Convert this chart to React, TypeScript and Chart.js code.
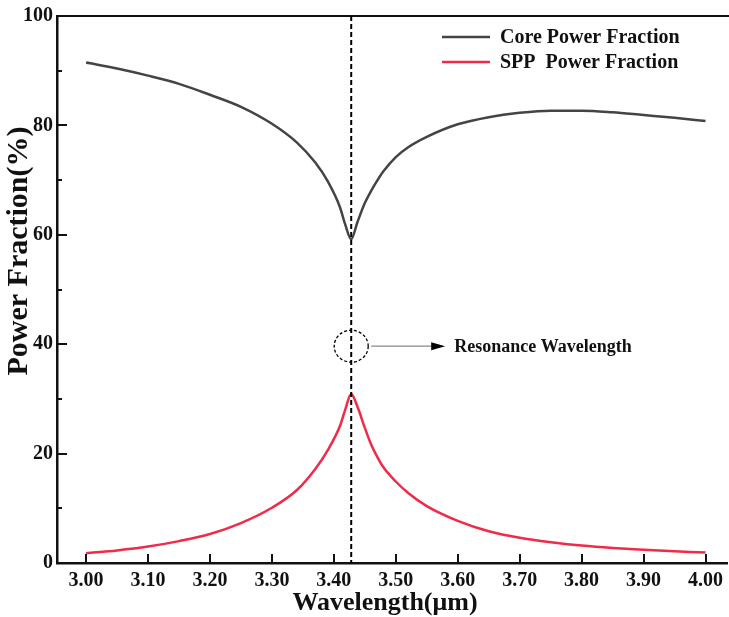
import React, { useEffect, useRef } from "react";
import { Chart, registerables } from "chart.js";

Chart.register(...registerables);

// Wavelength samples (µm)
const wavelengths = [
  3.0, 3.05, 3.1, 3.15, 3.2, 3.25, 3.3, 3.34, 3.37, 3.39, 3.41, 3.418, 3.428,
  3.438, 3.45, 3.46, 3.47, 3.48, 3.5, 3.52, 3.55, 3.6, 3.65, 3.7, 3.75, 3.8,
  3.85, 3.9, 3.95, 4.0,
];

// Fraction of power carried by the core mode (%)
const corePower = [
  91.5, 90.4, 89.1, 87.6, 85.6, 83.4, 80.3, 76.9, 73.2, 69.8, 65.0, 62.0, 59.2,
  62.3, 65.8, 68.0, 69.9, 71.6, 74.2, 76.0, 77.9, 80.2, 81.5, 82.3, 82.7, 82.7,
  82.4, 81.9, 81.4, 80.8,
];

// Fraction of power carried by the surface plasmon polariton mode (%)
const sppPower = [
  1.8, 2.3, 3.0, 4.0, 5.3, 7.3, 10.1, 13.3, 17.2, 20.6, 25.1, 27.9, 30.9,
  28.6, 24.7, 21.7, 19.4, 17.5, 14.9, 12.8, 10.4, 7.7, 5.8, 4.6, 3.8, 3.2,
  2.75, 2.4, 2.15, 1.9,
];

const xTicks = [3.0, 3.1, 3.2, 3.3, 3.4, 3.5, 3.6, 3.7, 3.8, 3.9, 4.0];
const yTicks = [0, 20, 40, 60, 80, 100];
const yMinorTicks = [10, 30, 50, 70, 90];
const resonanceWavelength = 3.428;
const annotationLevel = 40;

const seriesNames = ["Core Power Fraction", "SPP  Power Fraction"];
const seriesColors = ["#444444", "#f02a48"];
const xTitle = "Wavelength(μm)";
const yTitle = "Power Fraction(%)";
const annotationText = "Resonance Wavelength";

const SERIF = '"Liberation Serif", "Times New Roman", serif';

const decorPlugin = {
  id: "decor",
  afterDatasetsDraw(chart: any) {
    const { ctx, chartArea, scales } = chart;
    const xs = scales.x;
    const ys = scales.y;
    const { left, top, bottom } = chartArea;
    ctx.save();

    // top frame line running to the canvas edge
    ctx.strokeStyle = "#111";
    ctx.lineWidth = 2;
    ctx.beginPath();
    ctx.moveTo(left, top);
    ctx.lineTo(chart.width, top);
    ctx.stroke();

    // inward tick marks
    ctx.lineWidth = 2;
    ctx.beginPath();
    xTicks.forEach((v) => {
      const px = Math.round(xs.getPixelForValue(v));
      ctx.moveTo(px, bottom);
      ctx.lineTo(px, bottom - 9);
    });
    yTicks.forEach((v) => {
      const py = Math.round(ys.getPixelForValue(v));
      ctx.moveTo(left, py);
      ctx.lineTo(left + 10, py);
    });
    yMinorTicks.forEach((v) => {
      const py = Math.round(ys.getPixelForValue(v));
      ctx.moveTo(left, py);
      ctx.lineTo(left + 5, py);
    });
    ctx.stroke();

    // resonance marker line
    const rx = xs.getPixelForValue(resonanceWavelength);
    ctx.strokeStyle = "#000";
    ctx.lineWidth = 2;
    ctx.setLineDash([5, 3]);
    ctx.beginPath();
    ctx.moveTo(rx, top);
    ctx.lineTo(rx, bottom);
    ctx.stroke();

    // dashed circle around the marker
    const cy = ys.getPixelForValue(annotationLevel) + 2;
    ctx.lineWidth = 1.3;
    ctx.setLineDash([3, 2]);
    ctx.beginPath();
    ctx.ellipse(rx, cy, 17, 16, 0, 0, Math.PI * 2);
    ctx.stroke();
    ctx.setLineDash([]);

    // arrow to the label
    ctx.strokeStyle = "#888";
    ctx.lineWidth = 1.2;
    ctx.beginPath();
    ctx.moveTo(rx + 20, cy);
    ctx.lineTo(rx + 82, cy);
    ctx.stroke();
    ctx.fillStyle = "#000";
    ctx.beginPath();
    ctx.moveTo(rx + 94, cy);
    ctx.lineTo(rx + 80, cy - 4);
    ctx.lineTo(rx + 80, cy + 4);
    ctx.closePath();
    ctx.fill();

    ctx.font = `bold 18px ${SERIF}`;
    ctx.textAlign = "left";
    ctx.textBaseline = "middle";
    ctx.fillStyle = "#111";
    ctx.fillText(annotationText, rx + 103, cy + 1);

    // legend
    const legendY = [37, 62];
    seriesNames.forEach((name, i) => {
      ctx.strokeStyle = seriesColors[i];
      ctx.lineWidth = 2.5;
      ctx.beginPath();
      ctx.moveTo(442, legendY[i]);
      ctx.lineTo(490, legendY[i]);
      ctx.stroke();
      ctx.fillStyle = "#111";
      ctx.font = `bold 20px ${SERIF}`;
      ctx.fillText(name, 500, legendY[i] + 1);
    });

    // axis titles
    ctx.fillStyle = "#111";
    ctx.textAlign = "center";
    ctx.font = `bold 26px ${SERIF}`;
    ctx.fillText(xTitle, 385, 603);

    ctx.save();
    ctx.translate(19, 251);
    ctx.rotate(-Math.PI / 2);
    ctx.font = `bold 30px ${SERIF}`;
    ctx.fillText(yTitle, 0, 0);
    ctx.restore();

    ctx.restore();
  },
};

export default function App() {
  const canvasRef = useRef<HTMLCanvasElement | null>(null);

  useEffect(() => {
    const canvas = canvasRef.current;
    if (!canvas) return;
    const toPoints = (vals: number[]) =>
      wavelengths.map((x, i) => ({ x, y: vals[i] }));

    const chart = new Chart(canvas, {
      type: "line",
      data: {
        datasets: [
          {
            label: seriesNames[0],
            data: toPoints(corePower),
            borderColor: seriesColors[0],
            borderWidth: 2.5,
            pointRadius: 0,
            cubicInterpolationMode: "monotone",
            fill: false,
          },
          {
            label: seriesNames[1],
            data: toPoints(sppPower),
            borderColor: seriesColors[1],
            borderWidth: 2.5,
            pointRadius: 0,
            cubicInterpolationMode: "monotone",
            fill: false,
          },
        ],
      },
      options: {
        responsive: false,
        animation: false,
        devicePixelRatio: 1,
        layout: { padding: { top: 13, right: 0, left: 0, bottom: 0 } },
        plugins: {
          legend: { display: false },
          tooltip: { enabled: false },
        },
        scales: {
          x: {
            type: "linear",
            min: 2.953,
            max: 4.035,
            afterBuildTicks: (scale: any) => {
              scale.ticks = xTicks.map((value) => ({ value }));
            },
            afterFit: (scale: any) => {
              scale.height = 54;
            },
            grid: { display: false, drawTicks: false },
            border: { display: true, color: "#111", width: 2.5 },
            ticks: {
              padding: 6,
              color: "#111",
              font: { family: SERIF, size: 20, weight: "bold" },
              callback: (v: any) => Number(v).toFixed(2),
              maxRotation: 0,
              autoSkip: false,
            },
          },
          y: {
            type: "linear",
            min: 0,
            max: 100,
            afterBuildTicks: (scale: any) => {
              scale.ticks = yTicks.map((value) => ({ value }));
            },
            afterFit: (scale: any) => {
              scale.width = 57;
            },
            grid: { display: false, drawTicks: false },
            border: { display: true, color: "#111", width: 2.5 },
            ticks: {
              padding: 4,
              color: "#111",
              font: { family: SERIF, size: 20, weight: "bold" },
              callback: (v: any) => String(v),
            },
          },
        },
      },
      plugins: [decorPlugin],
    });

    return () => chart.destroy();
  }, []);

  return (
    <div style={{ position: "fixed", left: 0, top: 0, width: 729, height: 617, background: "#fff" }}>
      <canvas ref={canvasRef} width={729} height={617} />
    </div>
  );
}
